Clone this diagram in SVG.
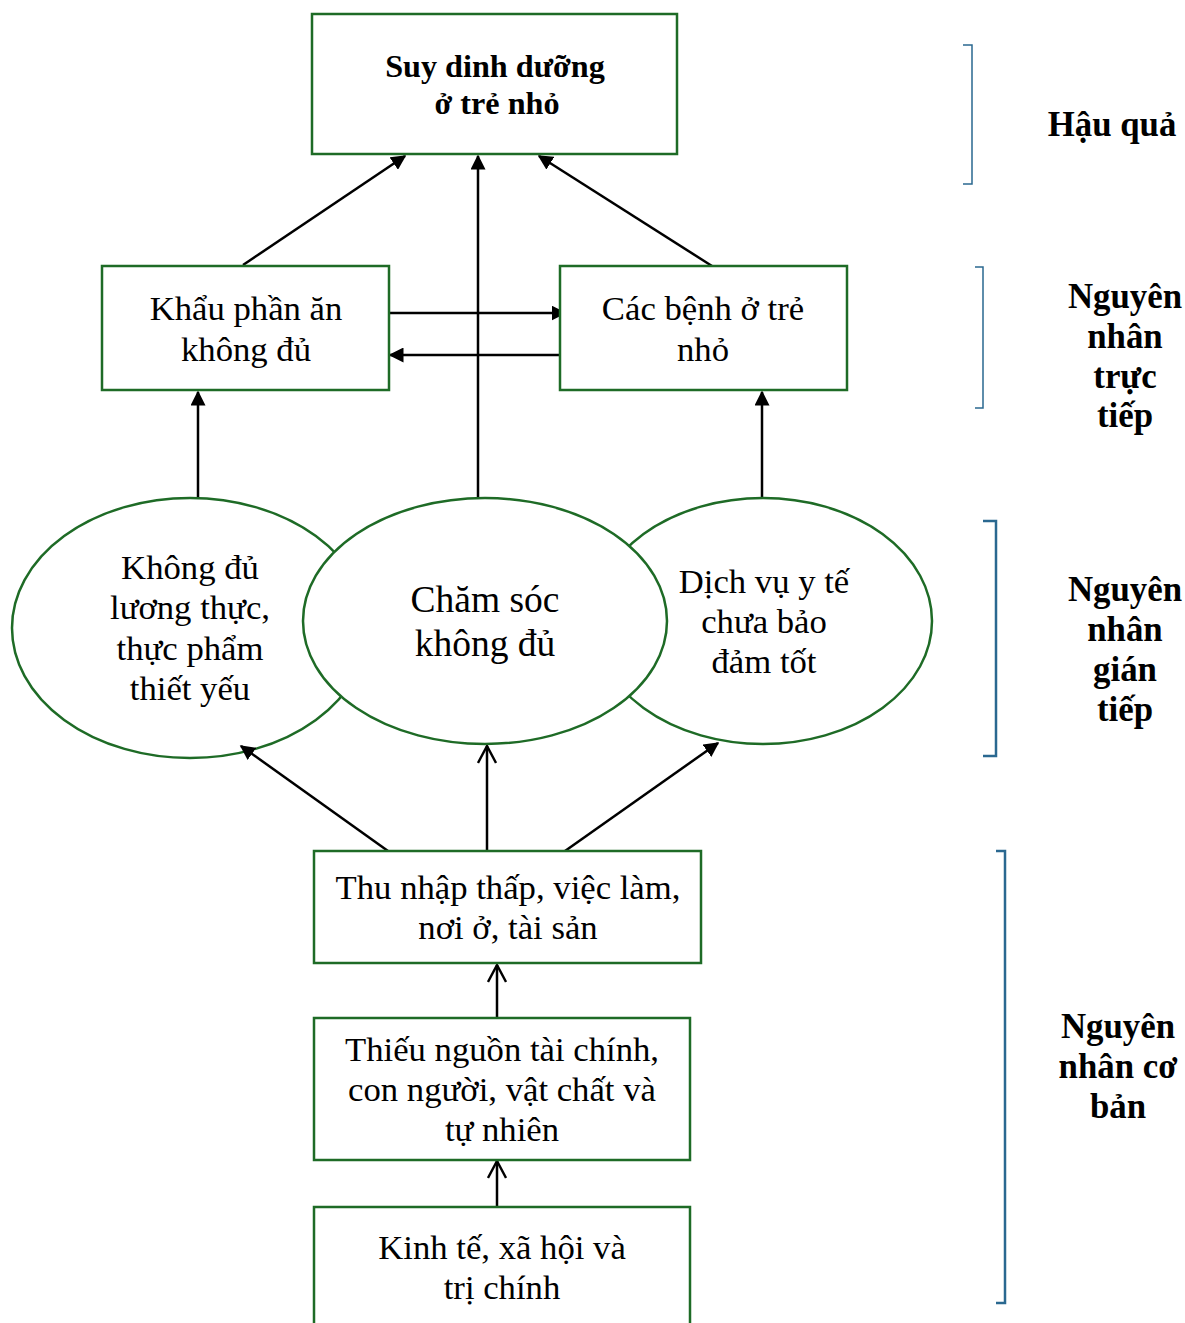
<svg xmlns="http://www.w3.org/2000/svg" width="1185" height="1323" viewBox="0 0 1185 1323">
<style>
.box{fill:#fff;stroke:#1e6b26;stroke-width:2.5}
.ell{fill:#fff;stroke:#1e6b26;stroke-width:2.5}
.t{font-family:"Liberation Serif",serif;font-size:34.7px;fill:#000;text-anchor:middle}
.tl{font-family:"Liberation Serif",serif;font-size:37.5px;fill:#000;text-anchor:middle}
.b{font-family:"Liberation Serif",serif;font-size:34.8px;font-weight:bold;fill:#000;text-anchor:middle}
.bt{font-family:"Liberation Serif",serif;font-size:32.2px;font-weight:bold;fill:#000;text-anchor:middle}
.c{stroke:#000;stroke-width:2.5;fill:none}
.br{fill:none;stroke:#2a6890}
</style>
<defs>
<marker id="fa" viewBox="0 0 10 10" refX="9" refY="5" markerWidth="6" markerHeight="6" markerUnits="strokeWidth" orient="auto"><path d="M0,0 L10,5 L0,10 z" fill="#000"/></marker>
<marker id="oa" viewBox="0 0 10 10" refX="9.5" refY="5" markerWidth="8" markerHeight="8" markerUnits="strokeWidth" orient="auto"><path d="M1,0.5 L9.5,5 L1,9.5" fill="none" stroke="#000" stroke-width="1.2"/></marker>
</defs>
<rect width="1185" height="1323" fill="#fff"/>
<g id="connectors">
<line class="c" x1="243" y1="265" x2="405" y2="156" marker-end="url(#fa)"/>
<line class="c" x1="478" y1="498" x2="478" y2="156" marker-end="url(#fa)"/>
<line class="c" x1="712" y1="266" x2="539" y2="156" marker-end="url(#fa)"/>
<line class="c" x1="390" y1="313" x2="565" y2="313" marker-end="url(#fa)"/>
<line class="c" x1="563" y1="355" x2="390" y2="355" marker-end="url(#fa)"/>
<line class="c" x1="198" y1="498" x2="198" y2="392" marker-end="url(#fa)"/>
<line class="c" x1="762" y1="498" x2="762" y2="392" marker-end="url(#fa)"/>
</g>
<g id="n-left"><ellipse class="ell" cx="190" cy="628" rx="178" ry="130"/>
<text class="t" x="190" y="579">Không đủ</text><text class="t" x="190" y="619">lương thực,</text><text class="t" x="190" y="660">thực phẩm</text><text class="t" x="190" y="700">thiết yếu</text></g>
<g id="n-right"><ellipse class="ell" cx="763" cy="621" rx="169" ry="123"/>
<text class="t" x="764" y="593">Dịch vụ y tế</text><text class="t" x="764" y="633">chưa bảo</text><text class="t" x="764" y="673">đảm tốt</text></g>
<g id="n-center"><ellipse class="ell" cx="485" cy="621" rx="182" ry="123"/>
<text class="tl" x="485" y="612">Chăm sóc</text><text class="tl" x="485" y="656">không đủ</text></g>
<g id="connectors2">
<line class="c" x1="388" y1="851" x2="241" y2="746" marker-end="url(#fa)"/>
<line class="c" x1="487" y1="851" x2="487" y2="746" marker-end="url(#oa)"/>
<line class="c" x1="565" y1="851" x2="718" y2="743" marker-end="url(#fa)"/>
<line class="c" x1="497" y1="1018" x2="497" y2="965" marker-end="url(#oa)"/>
<line class="c" x1="497" y1="1207" x2="497" y2="1161" marker-end="url(#oa)"/>
</g>
<g id="n-top"><rect class="box" x="312" y="14" width="365" height="140"/>
<text class="bt" x="495" y="77">Suy dinh dưỡng</text><text class="bt" x="497" y="114">ở trẻ nhỏ</text></g>
<g id="n-khau"><rect class="box" x="102" y="266" width="287" height="124"/>
<text class="t" x="246" y="320">Khẩu phần ăn</text><text class="t" x="246" y="361">không đủ</text></g>
<g id="n-benh"><rect class="box" x="560" y="266" width="287" height="124"/>
<text class="t" x="703" y="320">Các bệnh ở trẻ</text><text class="t" x="703" y="361">nhỏ</text></g>
<g id="n-thu"><rect class="box" x="314" y="851" width="387" height="112"/>
<text class="t" x="508" y="899">Thu nhập thấp, việc làm,</text><text class="t" x="508" y="939">nơi ở, tài sản</text></g>
<g id="n-thieu"><rect class="box" x="314" y="1018" width="376" height="142"/>
<text class="t" x="502" y="1061">Thiếu nguồn tài chính,</text><text class="t" x="502" y="1101">con người, vật chất và</text><text class="t" x="502" y="1141">tự nhiên</text></g>
<g id="n-kinh"><rect class="box" x="314" y="1207" width="376" height="130"/>
<text class="t" x="502" y="1259">Kinh tế, xã hội và</text><text class="t" x="502" y="1299">trị chính</text></g>
<g id="brackets">
<path class="br" stroke-width="1.5" d="M963,45 H972 V184 H963"/>
<path class="br" stroke-width="1.5" d="M975,267 H983 V408 H975"/>
<path class="br" stroke-width="2.5" d="M983,521 H996 V756 H983"/>
<path class="br" stroke-width="2.5" d="M996,851 H1005 V1303 H996"/>
</g>
<g id="labels">
<text class="b" x="1112" y="136">Hậu quả</text>
<text class="b" x="1125" y="308">Nguyên</text><text class="b" x="1125" y="348">nhân</text><text class="b" x="1125" y="388">trực</text><text class="b" x="1125" y="427">tiếp</text>
<text class="b" x="1125" y="601">Nguyên</text><text class="b" x="1125" y="641">nhân</text><text class="b" x="1125" y="681">gián</text><text class="b" x="1125" y="721">tiếp</text>
<text class="b" x="1118" y="1038">Nguyên</text><text class="b" x="1118" y="1078">nhân cơ</text><text class="b" x="1118" y="1118">bản</text>
</g>
</svg>
